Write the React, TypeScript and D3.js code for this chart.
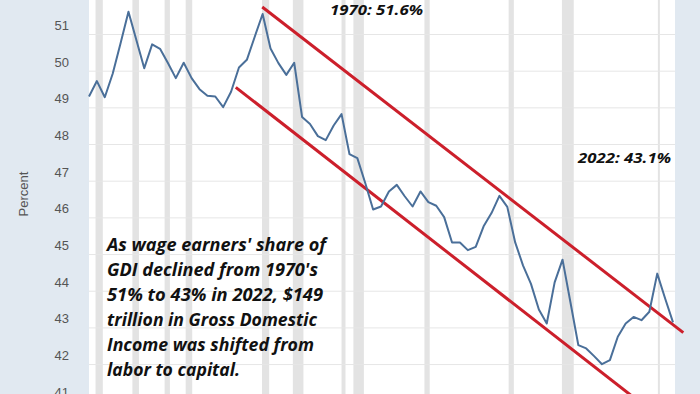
import React from "react";
import * as d3 from "d3";

const years = [
  1948, 1949, 1950, 1951, 1952, 1953, 1954, 1955, 1956, 1957, 1958, 1959,
  1960, 1961, 1962, 1963, 1964, 1965, 1966, 1967, 1968, 1969, 1970, 1971,
  1972, 1973, 1974, 1975, 1976, 1977, 1978, 1979, 1980, 1981, 1982, 1983,
  1984, 1985, 1986, 1987, 1988, 1989, 1990, 1991, 1992, 1993, 1994, 1995,
  1996, 1997, 1998, 1999, 2000, 2001, 2002, 2003, 2004, 2005, 2006, 2007,
  2008, 2009, 2010, 2011, 2012, 2013, 2014, 2015, 2016, 2017, 2018, 2019,
  2020, 2021, 2022,
];

const wageShare = [
  49.31, 49.73, 49.29, 49.93, 50.76, 51.62, 50.85, 50.08, 50.73, 50.61, 50.22, 49.81,
  50.23, 49.81, 49.51, 49.33, 49.31, 49.02, 49.44, 50.1, 50.31, 50.94, 51.56, 50.62,
  50.22, 49.9, 50.23, 48.75, 48.56, 48.23, 48.12, 48.52, 48.83, 47.74, 47.63, 46.95,
  46.23, 46.31, 46.72, 46.9, 46.59, 46.31, 46.72, 46.43, 46.33, 46.02, 45.33, 45.33,
  45.12, 45.21, 45.77, 46.13, 46.6, 46.3, 45.33, 44.7, 44.2, 43.5, 43.12, 44.24,
  44.86, 43.7, 42.53, 42.44, 42.23, 42.01, 42.12, 42.76, 43.12, 43.3, 43.21, 43.44,
  44.48, 43.8, 43.15,
];

const recessions: [number, number][] = [
  [1948.83, 1949.75],
  [1953.5, 1954.33],
  [1957.58, 1958.25],
  [1960.25, 1961.08],
  [1969.92, 1970.83],
  [1973.83, 1975.17],
  [1980.0, 1980.5],
  [1981.5, 1982.83],
  [1990.5, 1991.17],
  [2001.17, 2001.83],
  [2007.92, 2009.42],
  [2020.08, 2020.25],
];

const yTicks = [41, 42, 43, 44, 45, 46, 47, 48, 49, 50, 51];

// trend channel endpoints [year, percent]
const upperTrend: [number, number][] = [
  [1969.95, 51.75],
  [2023.3, 42.87],
];
const lowerTrend: [number, number][] = [
  [1966.6, 49.56],
  [2018.0, 40.94],
];

const noteLines = [
  "As wage earners' share of",
  "GDI declined from 1970's",
  "51% to 43% in 2022, $149",
  "trillion in Gross Domestic",
  "Income was shifted from",
  "labor to capital.",
];
const noteWidths = [219, 211, 216, 210, 207, 133];

const W = 700;
const H = 394;
const plotLeft = 89;
const plotRight = 675;

export default function App() {
  const x = d3.scaleLinear().domain([1948, 2022.25]).range([plotLeft, plotRight]);
  const y = d3.scaleLinear().domain([41, 51]).range([401.25, 34.5]);

  const line = d3
    .line<number>()
    .x((_, i) => x(years[i]))
    .y((d) => y(d));

  const trend = d3
    .line<[number, number]>()
    .x((d) => x(d[0]))
    .y((d) => y(d[1]));

  const noteFont = "'Open Sans', Lato, sans-serif";

  return (
    <svg
      width={W}
      height={H}
      style={{ position: "absolute", left: 0, top: 0, background: "#fff" }}
    >
      <defs>
        <clipPath id="clipAll">
          <rect x={0} y={0} width={W} height={H} />
        </clipPath>
      </defs>
      <rect x={0} y={0} width={plotLeft} height={H} fill="#e1e9f1" />
      <rect x={plotRight} y={0} width={W - plotRight} height={H} fill="#e1e9f1" />
      <rect x={plotLeft} y={0} width={plotRight - plotLeft} height={H} fill="#ffffff" />

      {recessions.map(([s, e], i) => (
        <rect
          key={i}
          x={x(s)}
          y={0}
          width={Math.max(2, x(e) - x(s))}
          height={H}
          fill="#e3e3e3"
        />
      ))}

      {yTicks.map((t) => (
        <line
          key={t}
          x1={plotLeft}
          x2={plotRight}
          y1={y(t)}
          y2={y(t)}
          stroke="#e6e6e6"
          strokeWidth={1}
        />
      ))}

      {yTicks.map((t) => (
        <text
          key={"l" + t}
          x={69}
          y={y(t) - 8}
          textAnchor="end"
          dominantBaseline="middle"
          fontFamily="Arial, 'Liberation Sans', sans-serif"
          fontSize={13}
          fill="#555"
        >
          {t}
        </text>
      ))}

      <text
        transform={`translate(28,194) rotate(-90)`}
        textAnchor="middle"
        fontFamily="Arial, 'Liberation Sans', sans-serif"
        fontSize={13}
        fill="#555"
      >
        Percent
      </text>

      <g clipPath="url(#clipAll)">
        <path d={trend(upperTrend) || ""} fill="none" stroke="#cc1f2b" strokeWidth={3} />
        <path d={trend(lowerTrend) || ""} fill="none" stroke="#cc1f2b" strokeWidth={3} />
        <path
          d={line(wageShare) || ""}
          fill="none"
          stroke="#4a6f99"
          strokeWidth={2}
          strokeLinejoin="round"
        />
      </g>

      <text
        x={330}
        y={15}
        fontFamily={noteFont}
        fontWeight="bold"
        fontStyle="italic"
        fontSize={15}
        textLength={93}
        lengthAdjust="spacingAndGlyphs"
        fill="#111"
      >
        1970: 51.6%
      </text>
      <text
        x={578}
        y={163}
        fontFamily={noteFont}
        fontWeight="bold"
        fontStyle="italic"
        fontSize={15}
        textLength={93}
        lengthAdjust="spacingAndGlyphs"
        fill="#111"
      >
        2022: 43.1%
      </text>

      {noteLines.map((s, i) => (
        <text
          key={i}
          x={107}
          y={251 + i * 25}
          fontFamily={noteFont}
          fontWeight="bold"
          fontStyle="italic"
          fontSize={17}
          textLength={noteWidths[i]}
          lengthAdjust="spacingAndGlyphs"
          fill="#111"
        >
          {s}
        </text>
      ))}
    </svg>
  );
}
